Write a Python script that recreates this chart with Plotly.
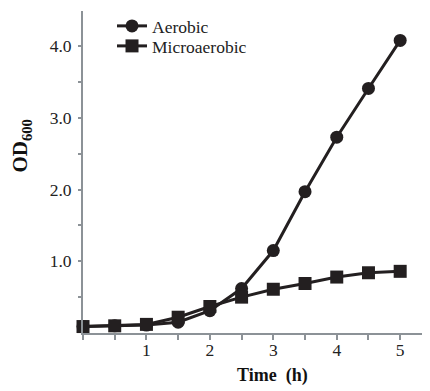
import plotly.graph_objects as go

time_h = [0, 0.5, 1, 1.5, 2, 2.5, 3, 3.5, 4, 4.5, 5]
aerobic = [0.09, 0.10, 0.11, 0.15, 0.31, 0.62, 1.15, 1.97, 2.73, 3.41, 4.08]
microaerobic = [0.09, 0.10, 0.12, 0.22, 0.37, 0.50, 0.61, 0.69, 0.78, 0.84, 0.86]

x_tickvals = [1, 2, 3, 4, 5]
x_ticktext = ["1", "2", "3", "4", "5"]
x_minorvals = [0, 0.5, 1, 1.5, 2, 2.5, 3, 3.5, 4, 4.5, 5]
y_tickvals = [1, 2, 3, 4]
y_ticktext = ["1.0", "2.0", "3.0", "4.0"]
y_minorvals = [0.5, 1, 1.5, 2, 2.5, 3, 3.5, 4, 4.5]

dark = "#231f20"
axis_col = "#8c9297"
font_fam = "Liberation Serif, Times New Roman, serif"

fig = go.Figure()
fig.add_trace(go.Scatter(x=time_h, y=aerobic, name="Aerobic", mode="lines+markers",
                         line=dict(color=dark, width=3),
                         marker=dict(symbol="circle", size=13, color=dark),
                         cliponaxis=False, legend="legend"))
fig.add_trace(go.Scatter(x=time_h, y=microaerobic, name="Microaerobic", mode="lines+markers",
                         line=dict(color=dark, width=3),
                         marker=dict(symbol="square", size=13, color=dark),
                         cliponaxis=False, legend="legend2"))

leg_common = dict(x=0.0836, xanchor="left", yanchor="middle",
                  bgcolor="rgba(0,0,0,0)", font=dict(size=17.5, family=font_fam, color="#222"),
                  itemwidth=30)

fig.update_layout(
    width=422, height=383,
    margin=dict(l=75, r=0, t=2, b=58),
    paper_bgcolor="white", plot_bgcolor="white",
    font=dict(family=font_fam, size=17, color="#222"),
    showlegend=True,
    legend=dict(y=0.9536, **leg_common),
    legend2=dict(y=0.8885, **leg_common),
    xaxis=dict(range=[0, 5.47], tickvals=x_tickvals, ticktext=x_ticktext,
               showgrid=False, zeroline=False, showline=True, automargin=False,
               linecolor=axis_col, linewidth=2, ticks="", ticklabelstandoff=0,
               tickfont=dict(size=17.5),
               minor=dict(tickvals=x_minorvals, ticks="outside", ticklen=5,
                          tickwidth=2, tickcolor=axis_col, showgrid=False)),
    yaxis=dict(range=[0, 4.49], tickvals=y_tickvals, ticktext=y_ticktext,
               showgrid=False, zeroline=False, showline=True, automargin=False,
               linecolor=axis_col, linewidth=2, ticks="", ticklabelstandoff=6,
               tickfont=dict(size=17.5),
               minor=dict(tickvals=y_minorvals, ticks="outside", ticklen=3,
                          tickwidth=2, tickcolor=axis_col, showgrid=False)),
    annotations=[
        dict(text="<b>Time\u00a0 (h)</b>", xref="paper", yref="paper",
             x=(264 - 75) / 347, y=-(368 - 325) / 323, xanchor="center", yanchor="middle",
             showarrow=False, font=dict(size=18, family=font_fam, color="#111")),
        dict(text="<b>OD<sub>600</sub></b>", xref="paper", yref="paper",
             x=-(75 - 13) / 347, y=1 - (137 - 2) / 323, xanchor="center", yanchor="middle",
             textangle=-90, showarrow=False, font=dict(size=21, family=font_fam, color="#111")),
    ],
)

fig.write_html("out.html")
